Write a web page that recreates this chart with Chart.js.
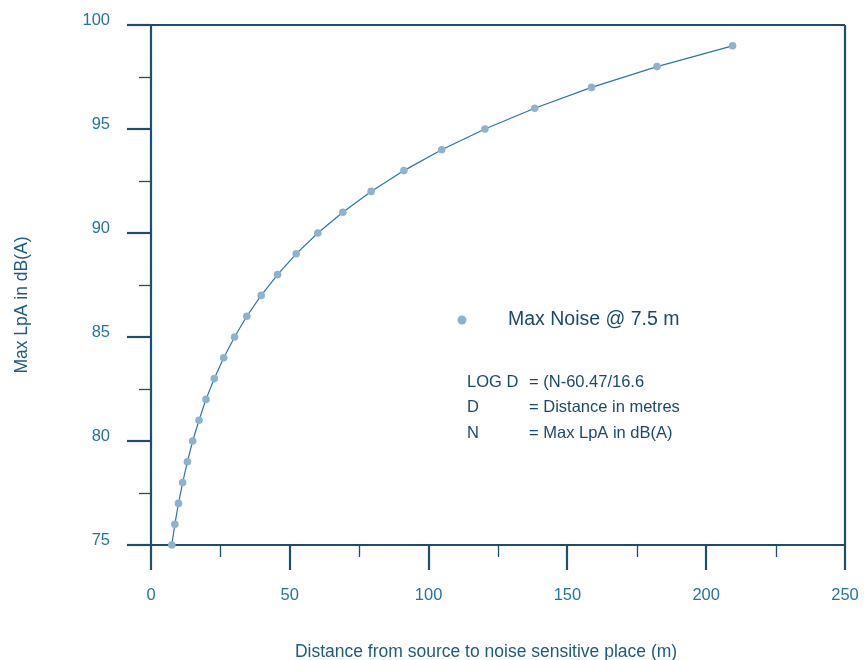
<!DOCTYPE html>
<html lang="en">
<head>
    <meta charset="UTF-8">
    <title>Max Noise vs Distance</title>
    <style>
        body { margin: 0; padding: 0; background: #ffffff; }
        .wrap { width: 864px; height: 660px; position: relative; }
    </style>
</head>
<body>
<div class="wrap"><canvas id="chart" width="864" height="660"></canvas></div>

<script src="https://cdn.jsdelivr.net/npm/chart.js"></script>
<script>
    // values
    const noiseLevels = [75, 76, 77, 78, 79, 80, 81, 82, 83, 84, 85, 86, 87, 88, 89, 90, 91, 92, 93, 94, 95, 96, 97, 98, 99];
    const distances = [7.5, 8.6, 9.9, 11.4, 13.1, 15.0, 17.3, 19.8, 22.8, 26.2, 30.1, 34.5, 39.7, 45.6, 52.3, 60.1, 69.1, 79.3, 91.1, 104.7, 120.3, 138.2, 158.7, 182.3, 209.5];
    const xTicks = [0, 50, 100, 150, 200, 250];
    const yTicks = [75, 80, 85, 90, 95, 100];
    const seriesName = 'Max Noise @ 7.5 m';
    const xTitle = 'Distance from source to noise sensitive place (m)';
    const yTitle = 'Max LpA in dB(A)';
    const notes = [
        ['LOG D', '= (N-60.47/16.6'],
        ['D', '= Distance in metres'],
        ['N', '= Max LpA in dB(A)']
    ];

    const axisColor = '#1d4e6e';
    const labelColor = '#2673a0';
    const titleColor = '#1f5a80';
    const pointColor = '#8fb3cc';
    const lineColor = '#2a77a0';
    const fontFamily = "'Liberation Sans', Arial, sans-serif";

    const points = distances.map((d, i) => ({ x: d, y: noiseLevels[i] }));

    // no extra room for label overflow, the layout padding below decides the plot box
    function noPad(s) {
        s.paddingLeft = 0; s.paddingRight = 0; s.paddingTop = 0; s.paddingBottom = 0;
    }

    const frame = {
        id: 'frame',
        beforeDatasetsDraw(chart) {
            const { ctx, chartArea: a, scales: { x, y } } = chart;
            ctx.save();
            ctx.strokeStyle = axisColor;
            ctx.lineCap = 'butt';
            // minor ticks
            ctx.lineWidth = 1.3;
            for (let v = 77.5; v < 100; v += 5) {
                const py = Math.round(y.getPixelForValue(v)) + 0.5;
                ctx.beginPath(); ctx.moveTo(a.left - 12, py); ctx.lineTo(a.left, py); ctx.stroke();
            }
            for (let v = 25; v < 250; v += 50) {
                const px = Math.round(x.getPixelForValue(v)) + 0.5;
                ctx.beginPath(); ctx.moveTo(px, a.bottom); ctx.lineTo(px, a.bottom + 12); ctx.stroke();
            }
            // major ticks
            ctx.lineWidth = 2.2;
            yTicks.forEach(v => {
                const py = Math.round(y.getPixelForValue(v));
                ctx.beginPath(); ctx.moveTo(a.left - 24, py); ctx.lineTo(a.left, py); ctx.stroke();
            });
            xTicks.forEach(v => {
                const px = Math.round(x.getPixelForValue(v));
                ctx.beginPath(); ctx.moveTo(px, a.bottom); ctx.lineTo(px, a.bottom + 25); ctx.stroke();
            });
            // frame lines
            ctx.beginPath();
            ctx.moveTo(a.left - 24, a.top); ctx.lineTo(a.right, a.top);
            ctx.moveTo(a.right, a.top); ctx.lineTo(a.right, a.bottom);
            ctx.moveTo(a.left, a.top); ctx.lineTo(a.left, a.bottom);
            ctx.moveTo(a.left - 19, a.bottom); ctx.lineTo(a.right, a.bottom);
            ctx.stroke();
            ctx.restore();
        },
        afterDraw(chart) {
            const { ctx } = chart;
            ctx.save();
            ctx.textBaseline = 'middle';
            // axis titles
            ctx.fillStyle = titleColor;
            ctx.font = '17.5px ' + fontFamily;
            ctx.textAlign = 'center';
            ctx.fillText(xTitle, 486, 652);
            ctx.save();
            ctx.translate(22, 305);
            ctx.rotate(-Math.PI / 2);
            ctx.fillText(yTitle, 0, 0);
            ctx.restore();
            ctx.textAlign = 'left';
            // legend
            ctx.fillStyle = pointColor;
            ctx.beginPath(); ctx.arc(462, 320, 4.5, 0, Math.PI * 2); ctx.fill();
            ctx.fillStyle = '#1b4a68';
            ctx.font = '19.5px ' + fontFamily;
            ctx.fillText(seriesName, 508, 320);
            // formula notes
            ctx.font = '16.5px ' + fontFamily;
            notes.forEach((n, i) => {
                const py = 382 + i * 25.5;
                ctx.fillText(n[0], 467, py);
                ctx.fillText(n[1], 529, py);
            });
            ctx.restore();
        }
    };

    new Chart(document.getElementById('chart').getContext('2d'), {
        type: 'scatter',
        data: {
            datasets: [{
                label: seriesName,
                data: points,
                showLine: true,
                borderColor: lineColor,
                borderWidth: 1.2,
                backgroundColor: pointColor,
                pointBackgroundColor: pointColor,
                pointBorderWidth: 0,
                pointRadius: 3.8,
                clip: false
            }]
        },
        options: {
            responsive: false,
            animation: false,
            events: [],
            layout: { padding: { top: 25, right: 19, left: 0, bottom: 0 } },
            plugins: { legend: { display: false }, tooltip: { enabled: false } },
            scales: {
                x: {
                    type: 'linear',
                    min: 0,
                    max: 250,
                    afterBuildTicks: s => { s.ticks = xTicks.map(v => ({ value: v })); },
                    afterFit: s => { s.height = 115; noPad(s); },
                    grid: { display: false, drawTicks: false },
                    border: { display: false },
                    ticks: {
                        color: labelColor,
                        font: { family: fontFamily, size: 16.5 },
                        padding: 41,
                        maxRotation: 0
                    }
                },
                y: {
                    type: 'linear',
                    min: 75,
                    max: 100,
                    afterBuildTicks: s => { s.ticks = yTicks.map(v => ({ value: v })); },
                    afterFit: s => { s.width = 151; noPad(s); },
                    grid: { display: false, drawTicks: false },
                    border: { display: false },
                    ticks: {
                        color: labelColor,
                        font: { family: fontFamily, size: 16.5 },
                        padding: 41,
                        labelOffset: -5
                    }
                }
            }
        },
        plugins: [frame]
    });
</script>
</body>
</html>
